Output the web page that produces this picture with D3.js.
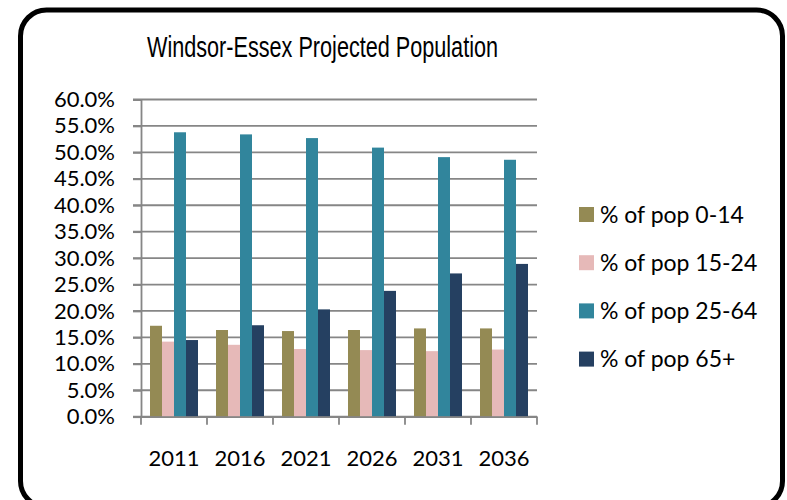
<!DOCTYPE html>
<html>
<head>
<meta charset="utf-8">
<script src="https://cdn.jsdelivr.net/npm/d3@7"></script>
<style>
  html, body { margin: 0; padding: 0; background: #fff; }
  svg { display: block; }
</style>
</head>
<body>
<svg id="chart" width="787" height="500"></svg>
<script>
// Projected age-group shares for Windsor-Essex, by census year
const years = ["2011", "2016", "2021", "2026", "2031", "2036"];
const seriesNames = ["% of pop 0-14", "% of pop 15-24", "% of pop 25-64", "% of pop 65+"];
const pop0to14  = [0.172, 0.164, 0.162, 0.164, 0.167, 0.167];
const pop15to24 = [0.142, 0.136, 0.128, 0.126, 0.124, 0.127];
const pop25to64 = [0.538, 0.534, 0.527, 0.509, 0.491, 0.486];
const pop65plus = [0.145, 0.173, 0.203, 0.238, 0.271, 0.289];
const yTicks = [0, 0.05, 0.10, 0.15, 0.20, 0.25, 0.30, 0.35, 0.40, 0.45, 0.50, 0.55, 0.60];
const seriesColors = ["#948A54", "#E6B9B8", "#31859C", "#254061"];

const seriesValues = [pop0to14, pop15to24, pop25to64, pop65plus];
const rows = years.map((yr, i) => ({
  year: yr,
  values: seriesNames.map((name, s) => ({ name, value: seriesValues[s][i] }))
}));

const svg = d3.select("#chart");
const tickFont = "Lato, 'Open Sans', sans-serif";

// rounded outer frame
svg.append("rect")
  .attr("x", 20.5).attr("y", 10).attr("width", 762).attr("height", 497)
  .attr("rx", 26).attr("ry", 26)
  .attr("fill", "#fff").attr("stroke", "#000").attr("stroke-width", 5);

// title
svg.append("text")
  .attr("x", 147).attr("y", 57)
  .attr("font-family", "'Liberation Sans', Arial, sans-serif")
  .attr("font-size", 29)
  .attr("textLength", 351).attr("lengthAdjust", "spacingAndGlyphs")
  .attr("fill", "#000")
  .text("Windsor-Essex Projected Population");

const plot = { left: 141, right: 537, top: 99.5, bottom: 416.7 };

const x = d3.scaleBand().domain(years).range([plot.left, plot.right]).padding(0);
const xInner = d3.scaleBand().domain(seriesNames).range([9, x.bandwidth() - 9]).padding(0);
const y = d3.scaleLinear().domain([0, 0.6]).range([plot.bottom, plot.top]);

// horizontal gridlines
svg.append("g")
  .selectAll("line")
  .data(yTicks)
  .join("line")
  .attr("x1", plot.left - 8).attr("x2", plot.right)
  .attr("y1", d => y(d)).attr("y2", d => y(d))
  .attr("stroke", "#868686").attr("stroke-width", 1.8);

// y axis
const yAxis = svg.append("g")
  .attr("transform", `translate(${plot.left},0)`)
  .call(d3.axisLeft(y).tickValues(yTicks).tickFormat(d3.format(".1%")).tickSize(8).tickPadding(18));
yAxis.select(".domain").attr("stroke", "#868686").attr("stroke-width", 1.8);
yAxis.selectAll(".tick line").attr("stroke", "#868686").attr("stroke-width", 1.8);
yAxis.selectAll(".tick text")
  .attr("font-family", tickFont).attr("font-size", 22).attr("fill", "#000");

// bars
svg.append("g")
  .selectAll("g")
  .data(rows)
  .join("g")
  .attr("transform", d => `translate(${x(d.year)},0)`)
  .selectAll("rect")
  .data(d => d.values)
  .join("rect")
  .attr("x", d => xInner(d.name))
  .attr("width", xInner.bandwidth())
  .attr("y", d => y(d.value))
  .attr("height", d => y(0) - y(d.value))
  .attr("fill", (d, i) => seriesColors[i]);

// x axis
const xAxis = svg.append("g")
  .attr("transform", `translate(0,${plot.bottom})`)
  .call(d3.axisBottom(x).tickSize(0).tickPadding(34));
xAxis.select(".domain").attr("stroke", "#868686").attr("stroke-width", 1.8);
xAxis.selectAll(".tick text")
  .attr("font-family", tickFont).attr("font-size", 22).attr("fill", "#000");
// category boundary tick marks
xAxis.append("g")
  .selectAll("line")
  .data(d3.range(years.length + 1))
  .join("line")
  .attr("x1", i => plot.left + i * x.step()).attr("x2", i => plot.left + i * x.step())
  .attr("y1", 0).attr("y2", 8)
  .attr("stroke", "#868686").attr("stroke-width", 1.8);

// legend
const legend = svg.append("g").attr("transform", "translate(579,207)");
const item = legend.selectAll("g")
  .data(seriesNames)
  .join("g")
  .attr("transform", (d, i) => `translate(0,${i * 48.2})`);
item.append("rect")
  .attr("width", 15).attr("height", 15)
  .attr("fill", (d, i) => seriesColors[i]);
item.append("text")
  .attr("x", 21).attr("y", 7.5).attr("dy", "0.35em")
  .attr("font-family", tickFont).attr("font-size", 23).attr("fill", "#000")
  .text(d => d);
</script>
</body>
</html>
